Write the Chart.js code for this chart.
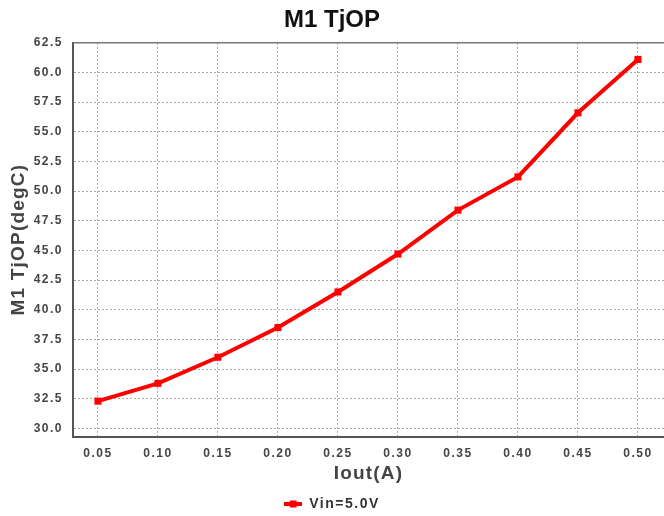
<!DOCTYPE html>
<html>
<head>
<meta charset="utf-8">
<script src="https://cdn.jsdelivr.net/npm/chart.js@4/dist/chart.umd.min.js"></script>
<style>
  html, body { margin: 0; padding: 0; background: #fff; }
  #wrap { width: 664px; height: 516px; }
</style>
</head>
<body>
<div id="wrap"><canvas id="tjopChart" width="664" height="516"></canvas></div>
<script>
// data
const ioutValues = [0.05, 0.10, 0.15, 0.20, 0.25, 0.30, 0.35, 0.40, 0.45, 0.50];
const tjopValues = [32.3, 33.8, 36.0, 38.5, 41.5, 44.7, 48.4, 51.2, 56.6, 61.1];
const seriesLabel = 'Vin=5.0V';
const yTicks = [30.0, 32.5, 35.0, 37.5, 40.0, 42.5, 45.0, 47.5, 50.0, 52.5, 55.0, 57.5, 60.0, 62.5];

const FONT = 'Liberation Sans, Arial, sans-serif';
const RED = '#ff0000';

// small line + square swatch for the legend
const swatch = document.createElement('canvas');
swatch.width = 18;
swatch.height = 8;
(function () {
    const c = swatch.getContext('2d');
    c.fillStyle = RED;
    c.fillRect(0, 2, 18, 4);
    c.fillRect(5.5, 0.5, 7, 7);
})();

const canvas = document.getElementById('tjopChart');
const ctx = canvas.getContext('2d');

// the reference text is a bit spaced out; pick spacing from the font size
function spacingFor(font) {
    const m = /(\d+(?:\.\d+)?)px/.exec(font || '');
    const size = m ? parseFloat(m[1]) : 12;
    if (size >= 22) return '0px';
    if (size >= 17) return '1.2px';
    return '1.5px';
}
const origFill = ctx.fillText.bind(ctx);
const origMeasure = ctx.measureText.bind(ctx);
ctx.fillText = function (t, x, y, w) {
    ctx.letterSpacing = spacingFor(ctx.font);
    return w === undefined ? origFill(t, x, y) : origFill(t, x, y, w);
};
ctx.measureText = function (t) {
    ctx.letterSpacing = spacingFor(ctx.font);
    return origMeasure(t);
};

// solid line along top of plot area
const topBorder = {
    id: 'topBorder',
    afterDatasetsDraw(chart) {
        const { ctx, chartArea } = chart;
        ctx.save();
        ctx.strokeStyle = '#777';
        ctx.lineWidth = 1.5;
        ctx.beginPath();
        ctx.moveTo(chartArea.left, chartArea.top);
        ctx.lineTo(chartArea.right, chartArea.top);
        ctx.stroke();
        ctx.restore();
    }
};

new Chart(ctx, {
    type: 'line',
    data: {
        datasets: [{
            label: seriesLabel,
            data: ioutValues.map((x, i) => ({ x: x, y: tjopValues[i] })),
            borderColor: RED,
            backgroundColor: RED,
            borderWidth: 4,
            pointStyle: 'rect',
            pointRadius: 5,
            pointBorderWidth: 0,
            pointBackgroundColor: RED,
            tension: 0,
            clip: false,
        }]
    },
    options: {
        responsive: false,
        animation: false,
        layout: { autoPadding: false, padding: { top: 0, left: 0, right: 0, bottom: -5 } },
        plugins: {
            title: {
                display: true,
                text: 'M1 TjOP',
                color: '#111',
                font: { family: FONT, size: 24, weight: 'bold' },
                padding: { top: 6, bottom: 8 },
            },
            legend: {
                position: 'bottom',
                labels: {
                    usePointStyle: true,
                    pointStyle: swatch,
                    pointStyleWidth: 18,
                    color: '#333',
                    font: { family: FONT, size: 14, weight: 'bold' },
                    padding: 12,
                    generateLabels(chart) {
                        return [{
                            text: seriesLabel,
                            pointStyle: swatch,
                            fillStyle: RED,
                            strokeStyle: RED,
                            lineWidth: 0,
                            fontColor: '#333',
                            datasetIndex: 0,
                        }];
                    }
                }
            },
            tooltip: { enabled: false },
        },
        scales: {
            x: {
                type: 'linear',
                min: 0.0292,
                max: 0.5217,
                afterBuildTicks(scale) {
                    scale.ticks = ioutValues.map(v => ({ value: v }));
                },
                afterFit(scale) { scale.height = 48.5; },
                ticks: {
                    color: '#444',
                    font: { family: FONT, size: 12, weight: 'bold' },
                    padding: 10,
                    maxRotation: 0,
                    autoSkip: false,
                    callback: v => v.toFixed(2),
                },
                grid: {
                    color: '#aaa',
                    lineWidth: 1,
                    drawTicks: false,
                },
                border: { display: true, color: '#555', width: 2, dash: [2, 2] },
                title: {
                    display: true,
                    text: 'Iout(A)',
                    color: '#444',
                    font: { family: FONT, size: 19, weight: 'bold' },
                    padding: { top: 0.5, bottom: 0 },
                },
            },
            y: {
                min: 29.32,
                max: 62.5,
                afterBuildTicks(scale) {
                    scale.ticks = yTicks.map(v => ({ value: v }));
                },
                afterFit(scale) { scale.width = 73; },
                ticks: {
                    color: '#444',
                    font: { family: FONT, size: 12, weight: 'bold' },
                    padding: 10,
                    callback: v => v.toFixed(1),
                },
                grid: {
                    color: '#aaa',
                    lineWidth: 1,
                    drawTicks: false,
                },
                border: { display: true, color: '#555', width: 2, dash: [2, 2] },
                title: {
                    display: true,
                    text: 'M1 TjOP(degC)',
                    color: '#444',
                    font: { family: FONT, size: 19, weight: 'bold' },
                    padding: { top: 7, bottom: 0 },
                },
            }
        }
    },
    plugins: [topBorder]
});
</script>
</body>
</html>
